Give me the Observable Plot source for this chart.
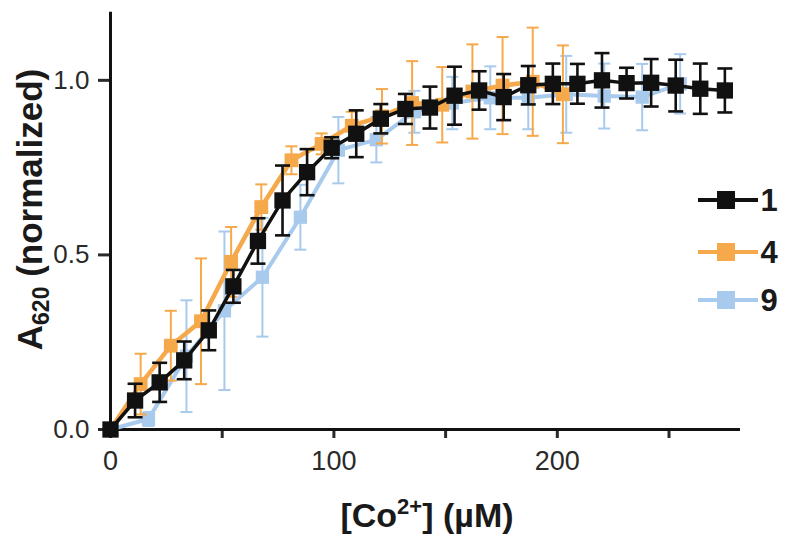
<!DOCTYPE html>
<html>
<head>
<meta charset="utf-8">
<script src="https://cdn.jsdelivr.net/npm/d3@7"></script>
<script src="https://cdn.jsdelivr.net/npm/@observablehq/plot@0.6"></script>
<style>
  html, body { margin: 0; padding: 0; background: #fff; }
  #chart { width: 800px; height: 544px; }
</style>
</head>
<body>
<div id="chart"></div>
<script>
// ---- data ----
const seriesNames = ["1", "4", "9"];
const seriesColors = ["#111111", "#f6a94b", "#a8caec"];

const conc1 = [0, 11, 22, 33, 44, 55, 66, 77, 88, 99, 110, 121, 132, 143, 154, 165, 176, 187, 198, 209, 220, 231, 242, 253, 264, 275];
const a620_1 = [0, 0.083, 0.135, 0.198, 0.284, 0.41, 0.54, 0.656, 0.737, 0.807, 0.847, 0.89, 0.918, 0.922, 0.956, 0.971, 0.952, 0.986, 0.99, 0.99, 1.0, 0.992, 0.993, 0.985, 0.976, 0.971];
const err1 = [0, 0.048, 0.056, 0.054, 0.057, 0.047, 0.065, 0.1, 0.066, 0.03, 0.067, 0.042, 0.043, 0.06, 0.083, 0.055, 0.066, 0.055, 0.058, 0.057, 0.078, 0.044, 0.068, 0.074, 0.072, 0.063];

const conc4 = [0, 13.5, 27, 40.5, 54, 67.5, 81, 94.5, 108, 121.5, 135, 148.5, 162, 175.5, 189, 202.5];
const a620_4 = [0, 0.13, 0.24, 0.31, 0.48, 0.637, 0.771, 0.818, 0.87, 0.897, 0.935, 0.93, 0.968, 0.985, 0.996, 0.96];
const err4 = [0, 0.087, 0.1, 0.18, 0.1, 0.065, 0.04, 0.03, 0.04, 0.078, 0.12, 0.108, 0.135, 0.139, 0.155, 0.14];

const conc9 = [0, 17, 34, 51, 68, 85, 102, 119, 136, 153, 170, 187, 204, 221, 238, 255];
const a620_9 = [0, 0.03, 0.21, 0.34, 0.436, 0.608, 0.8, 0.83, 0.91, 0.935, 0.95, 0.95, 0.96, 0.955, 0.952, 0.99];
const err9 = [0, 0.02, 0.16, 0.227, 0.17, 0.093, 0.095, 0.065, 0.06, 0.075, 0.09, 0.09, 0.11, 0.093, 0.095, 0.085];

const xTicks = [0, 50, 100, 150, 200, 250];
const xTickLabels = ["0", "", "100", "", "200", ""];
const yTicks = [0, 0.5, 1.0];
const yTickLabels = ["0.0", "0.5", "1.0"];

// ---- build tables ----
function rows(xs, ys, es) {
  return xs.map((x, i) => ({x, y: ys[i], lo: ys[i] - es[i], hi: ys[i] + es[i]}));
}
const d1 = rows(conc1, a620_1, err1);
const d4 = rows(conc4, a620_4, err4);
const d9 = rows(conc9, a620_9, err9);

function capSymbol(half) {
  return {draw(ctx) { ctx.moveTo(-half, 0); ctx.lineTo(half, 0); }};
}

function seriesMarks(data, color, o) {
  return [
    Plot.ruleX(data, {x: "x", y1: "lo", y2: "hi", stroke: color, strokeWidth: o.ew}),
    Plot.dot(data, {x: "x", y: "hi", symbol: capSymbol(o.cap), stroke: color, fill: "none", strokeWidth: o.ew}),
    Plot.dot(data, {x: "x", y: "lo", symbol: capSymbol(o.cap), stroke: color, fill: "none", strokeWidth: o.ew}),
    Plot.line(data, {x: "x", y: "y", stroke: color, strokeWidth: o.lw}),
    Plot.dot(data, {x: "x", y: "y", symbol: "square", r: o.r, fill: color, stroke: "none"})
  ];
}

const chart = Plot.plot({
  width: 800,
  height: 544,
  marginLeft: 110,
  marginRight: 60,
  marginTop: 10,
  marginBottom: 115,
  x: {domain: [0, 282]},
  y: {domain: [0, 1.2]},
  style: {fontFamily: "'Liberation Sans', Arial, sans-serif", color: "#2a2a2a", background: "#fff"},
  marks: [
    Plot.axisX({ticks: xTicks, tickFormat: (d, i) => xTickLabels[i], tickSize: 9, tickPadding: 12, fontSize: 27, strokeWidth: 3, label: null}),
    Plot.axisY({ticks: yTicks, tickFormat: (d, i) => yTickLabels[i], tickSize: 12, tickPadding: 9, fontSize: 26, strokeWidth: 3, label: null}),
    Plot.ruleY([0], {x1: 0, x2: 282, stroke: "#111", strokeWidth: 3}),
    Plot.ruleX([0], {y1: 0, y2: 1.195, stroke: "#111", strokeWidth: 3}),
    ...seriesMarks(d9, seriesColors[2], {ew: 2, cap: 6, lw: 4, r: 7.5}),
    ...seriesMarks(d4, seriesColors[1], {ew: 2, cap: 6, lw: 4.5, r: 7.8}),
    ...seriesMarks(d1, seriesColors[0], {ew: 2.6, cap: 7.5, lw: 3.5, r: 9.2})
  ]
});

const svg = d3.select(chart);
const xs = chart.scale("x"), ys = chart.scale("y");

// x-axis title
const xt = svg.append("text")
  .attr("x", (xs.range[0] + xs.range[1]) / 2 + 2)
  .attr("y", 527)
  .attr("text-anchor", "middle")
  .attr("font-size", 34)
  .attr("font-weight", "bold")
  .attr("fill", "#1a1a1a");
xt.append("tspan").text("[Co");
xt.append("tspan").attr("font-size", 22).attr("dy", -13).text("2+");
xt.append("tspan").attr("dy", 13).text("] (µM)");

// y-axis title
const yMid = (ys.range[0] + ys.range[1]) / 2 - 10;
const yt = svg.append("text")
  .attr("transform", `translate(42,${yMid}) rotate(-90)`)
  .attr("text-anchor", "middle")
  .attr("font-size", 35)
  .attr("font-weight", "bold")
  .attr("fill", "#1a1a1a");
yt.append("tspan").text("A");
yt.append("tspan").attr("font-size", 23).attr("dy", 7).text("620");
yt.append("tspan").attr("dy", -7).text(" (normalized)");

// legend
const legendY = [200, 252, 300];
const lg = svg.append("g");
seriesNames.forEach((name, i) => {
  const g = lg.append("g").attr("transform", `translate(0,${legendY[i]})`);
  g.append("line").attr("x1", 698).attr("x2", 758).attr("y1", 0).attr("y2", 0)
    .attr("stroke", seriesColors[i]).attr("stroke-width", 4);
  g.append("rect").attr("x", 717).attr("y", -9).attr("width", 18).attr("height", 18)
    .attr("fill", seriesColors[i]);
  g.append("text").attr("x", 769).attr("y", 0).attr("dy", "0.36em")
    .attr("font-size", 31).attr("font-weight", "bold").attr("fill", "#1a1a1a").text(name);
});

document.getElementById("chart").appendChild(chart);
</script>
</body>
</html>
